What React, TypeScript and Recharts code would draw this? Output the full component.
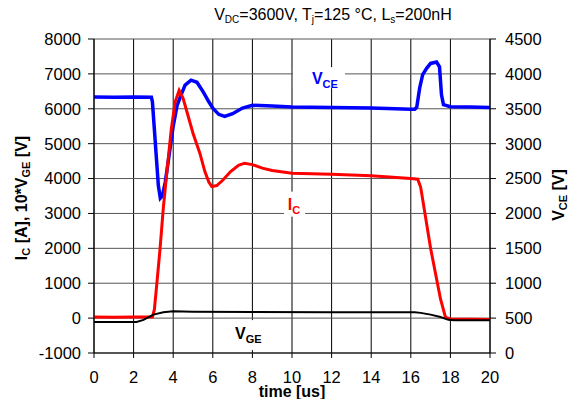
import { ComposedChart, Line, XAxis, YAxis, CartesianGrid, ReferenceDot } from 'recharts';

// time axis [us] and each trace's samples
const xTicks = [0, 2, 4, 6, 8, 10, 12, 14, 16, 18, 20];
const leftTicks = [-1000, 0, 1000, 2000, 3000, 4000, 5000, 6000, 7000, 8000];
const rightTicks = [0, 500, 1000, 1500, 2000, 2500, 3000, 3500, 4000, 4500];

const vceTime = [0, 1, 2, 2.9, 2.95, 3.05, 3.15, 3.25, 3.35, 3.45, 3.6, 3.8, 4.0, 4.2, 4.4, 4.6, 4.9, 5.2, 5.5, 5.8, 6.0, 6.3, 6.6, 7.0, 7.5, 8.0, 9.0, 10, 12, 14, 16, 16.2, 16.3, 16.45, 16.6, 16.8, 17.0, 17.3, 17.45, 17.55, 17.65, 18, 19, 20];
const vceVolts = [3670, 3665, 3670, 3665, 3600, 3200, 2800, 2400, 2220, 2250, 2450, 2850, 3250, 3550, 3700, 3840, 3910, 3880, 3750, 3600, 3510, 3420, 3390, 3430, 3510, 3550, 3540, 3525, 3520, 3510, 3495, 3495, 3520, 3800, 3990, 4080, 4150, 4170, 4100, 3700, 3560, 3530, 3525, 3520];

const icTime = [0, 1, 2, 2.95, 3.05, 3.2, 3.33, 3.5, 3.7, 3.9, 4.1, 4.3, 4.5, 4.7, 5.0, 5.35, 5.6, 5.8, 5.95, 6.2, 6.5, 6.9, 7.3, 7.6, 8.0, 8.5, 9.0, 10, 12, 14, 16, 16.35, 16.5, 17.0, 17.5, 17.75, 18, 19, 20];
const icAmps = [30, 25, 30, 30, 250, 1150, 1950, 3150, 4300, 5400, 6200, 6530, 6300, 5900, 5300, 4720, 4200, 3900, 3770, 3800, 3950, 4200, 4380, 4440, 4400, 4300, 4230, 4150, 4120, 4080, 4000, 3980, 3750, 2000, 550, 30, -30, -35, -40];

const vgeTime = [0, 1, 2.15, 2.5, 3.0, 3.5, 4.0, 5.0, 8.0, 12, 16.2, 16.5, 17.0, 17.5, 17.9, 18.2, 19, 20];
const vgeX10 = [-110, -110, -110, -50, 100, 170, 200, 185, 175, 170, 165, 150, 100, 30, -50, -60, -60, -60];

const vce = vceTime.map((t, i) => ({ t, v: vceVolts[i] }));
const ic = icTime.map((t, i) => ({ t, v: icAmps[i] }));
const vge = vgeTime.map((t, i) => ({ t, v: vgeX10[i] }));

const font = 'Arial, "Liberation Sans", sans-serif';
const tickStyle = { fill: '#000', fontSize: 16.5, fontFamily: font };

function tag(main: string, sub: string, color: string, box: number[], text: number[]) {
  // box: [dx, dy, w, h] relative to the anchor point, text: [dx, dy] baseline start
  return (p: any) => (
    <g>
      <rect x={p.cx + box[0]} y={p.cy + box[1]} width={box[2]} height={box[3]} fill="#fff" />
      <text x={p.cx + text[0]} y={p.cy + text[1]} fill={color} fontFamily={font} fontWeight="bold" fontSize={16}>
        {main}
        <tspan fontSize={11} dy={4}>{sub}</tspan>
      </text>
    </g>
  );
}

export default function App() {
  return (
    <div style={{ position: 'absolute', left: 0, top: 0, background: '#fff' }}>
      <ComposedChart width={569} height={399} margin={{ top: 39, right: 0, bottom: 0, left: 0 }}>
        <CartesianGrid horizontal={false} stroke="#000" strokeWidth={1} />
        <CartesianGrid vertical={false} stroke="#555" strokeWidth={1} />
        <XAxis
          type="number"
          dataKey="t"
          domain={[0, 20]}
          ticks={xTicks}
          height={46}
          tick={tickStyle}
          tickSize={5}
          tickMargin={13}
          stroke="#000"
          allowDuplicatedCategory={false}
        />
        <YAxis
          type="number"
          domain={[-1000, 8000]}
          ticks={leftTicks}
          width={94}
          tick={tickStyle}
          tickSize={6}
          tickMargin={7}
          stroke="#000"
        />
        <YAxis
          yAxisId="right"
          orientation="right"
          type="number"
          domain={[0, 4500]}
          ticks={rightTicks}
          width={79}
          tick={{ ...tickStyle, textAnchor: 'start' }}
          tickSize={6}
          tickMargin={9}
          stroke="#000"
        />
        <Line yAxisId="right" data={vce} dataKey="v" stroke="#0000ff" strokeWidth={3.5} dot={false} isAnimationActive={false} />
        <Line data={ic} dataKey="v" stroke="#ff0000" strokeWidth={3} dot={false} isAnimationActive={false} />
        <Line data={vge} dataKey="v" stroke="#000" strokeWidth={2} dot={false} isAnimationActive={false} />

        <ReferenceDot x={11.36} y={6893} r={0} shape={tag('V', 'CE', '#0000ff', [-26, -10.5, 52, 21], [-7, 6.5])} />
        <ReferenceDot x={10.13} y={3267} r={0} shape={tag('I', 'C', '#ff0000', [-10.5, -12.5, 21, 25], [-6.8, 6])} />
        <ReferenceDot x={7.83} y={-487} r={0} shape={tag('V', 'GE', '#000', [-17, -15, 34, 30], [-14, 4])} />

        <text x={333} y={19.5} textAnchor="middle" fontFamily={font} fontSize={16} fill="#000">
          V<tspan fontSize={10} dy={3}>DC</tspan>
          <tspan dy={-3}>=3600V, T</tspan>
          <tspan fontSize={10} dy={3}>j</tspan>
          <tspan dy={-3}>=125 °C, L</tspan>
          <tspan fontSize={10} dy={3}>s</tspan>
          <tspan dy={-3}>=200nH</tspan>
        </text>
        <text transform="translate(27,198) rotate(-90)" textAnchor="middle" fontFamily={font} fontSize={16} fontWeight="bold" fill="#000">
          I<tspan fontSize={11} dy={3}>C</tspan>
          <tspan dy={-3}> [A], 10*V</tspan>
          <tspan fontSize={11} dy={3}>GE</tspan>
          <tspan dy={-3}> [V]</tspan>
        </text>
        <text transform="translate(564,195) rotate(-90)" textAnchor="middle" fontFamily={font} fontSize={16} fontWeight="bold" fill="#000">
          V<tspan fontSize={11} dy={3}>CE</tspan>
          <tspan dy={-3}> [V]</tspan>
        </text>
        <text x={292} y={397} textAnchor="middle" fontFamily={font} fontSize={16} fontWeight="bold" fill="#000">
          time [us]
        </text>
      </ComposedChart>
    </div>
  );
}
